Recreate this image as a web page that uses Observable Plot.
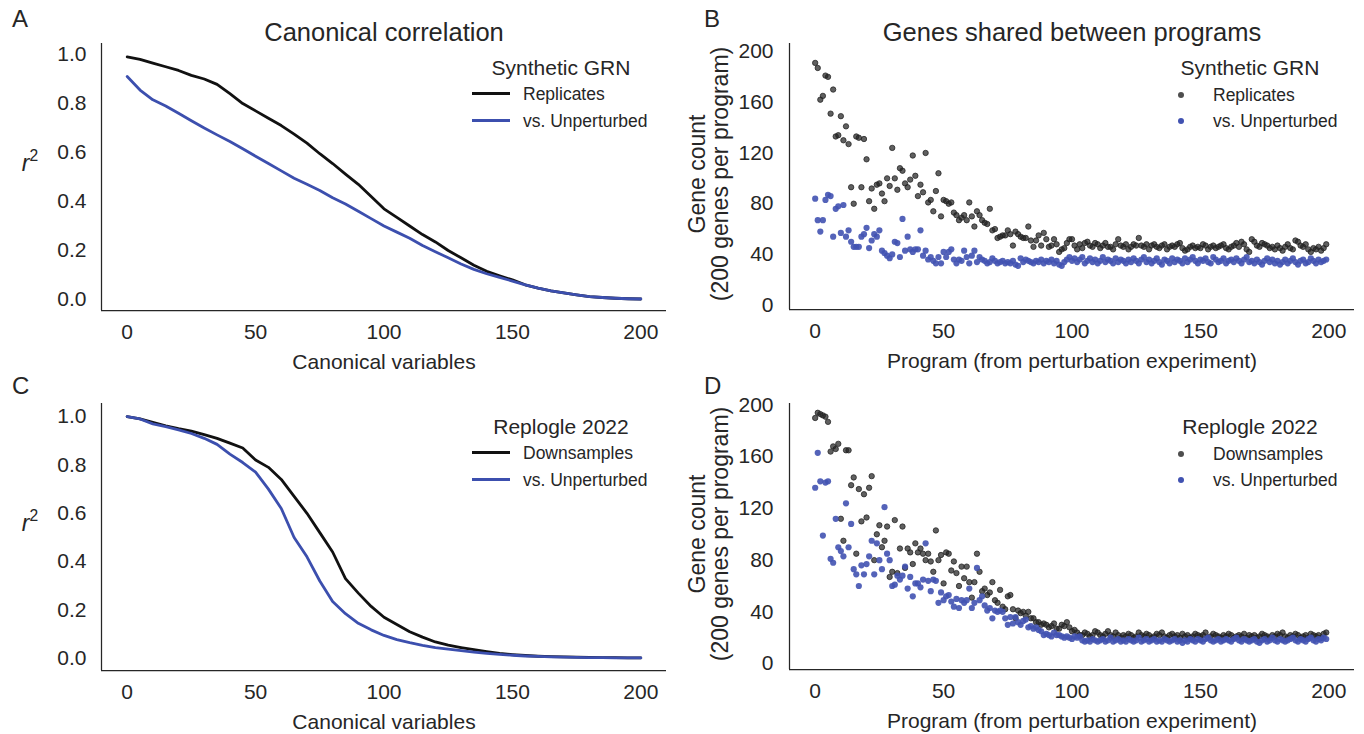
<!DOCTYPE html>
<html>
<head>
<meta charset="utf-8">
<script src="https://cdn.jsdelivr.net/npm/d3@7"></script>
<script src="https://cdn.jsdelivr.net/npm/@observablehq/plot@0.6"></script>
<style>
  body { margin: 0; background: #fff; }
  #fig { position: relative; width: 1364px; height: 734px; overflow: hidden;
         font-family: "Liberation Sans", Arial, sans-serif; color: #262626; }
  #fig svg { position: absolute; overflow: visible; }
  .t { position: absolute; white-space: nowrap; line-height: 1.15; }
  .mid { transform: translate(-50%, -50%); }
  .vmid { transform: translateY(-50%); }
  .rot { transform: translate(-50%, -50%) rotate(-90deg); }
  .swline { position: absolute; width: 38px; height: 3px; }
  .swdot { position: absolute; width: 6px; height: 6px; border-radius: 50%; }
</style>
</head>
<body>
<div id="fig"></div>
<script>
// Canonical variable index at which each r² value is listed
const canonicalIdx = [0,5,10,15,20,25,30,35,40,45,50,55,60,65,70,75,80,85,90,95,100,
  105,110,115,120,125,130,135,140,145,150,155,160,165,170,175,180,185,190,195,200];

// Synthetic GRN: canonical correlation r²
const grnReplicates = [0.99,0.98,0.965,0.95,0.935,0.915,0.90,0.878,0.84,0.80,0.77,
  0.74,0.71,0.675,0.638,0.595,0.555,0.512,0.47,0.42,0.37,
  0.335,0.30,0.265,0.235,0.20,0.17,0.14,0.115,0.097,0.08,
  0.06,0.046,0.035,0.027,0.019,0.012,0.008,0.005,0.003,0.002];
const grnUnperturbed = [0.91,0.855,0.815,0.79,0.76,0.73,0.70,0.672,0.645,0.615,0.585,
  0.555,0.525,0.495,0.47,0.445,0.415,0.39,0.36,0.33,0.30,
  0.275,0.25,0.22,0.195,0.17,0.145,0.123,0.105,0.09,0.075,
  0.06,0.046,0.035,0.027,0.019,0.012,0.008,0.005,0.003,0.002];

// Replogle 2022: canonical correlation r²
const repDownsamples = [1.0,0.99,0.976,0.962,0.95,0.94,0.925,0.91,0.89,0.87,0.82,
  0.79,0.74,0.67,0.60,0.52,0.44,0.33,0.27,0.215,0.17,
  0.14,0.11,0.088,0.068,0.055,0.045,0.036,0.028,0.021,0.016,
  0.012,0.009,0.007,0.006,0.005,0.004,0.003,0.003,0.002,0.002];
const repUnperturbed = [1.0,0.99,0.97,0.958,0.945,0.93,0.91,0.885,0.845,0.81,0.77,
  0.70,0.62,0.50,0.42,0.32,0.235,0.185,0.145,0.118,0.095,
  0.078,0.065,0.054,0.045,0.038,0.032,0.026,0.021,0.017,0.013,
  0.01,0.008,0.006,0.005,0.004,0.003,0.003,0.002,0.002,0.002];

// Genes shared between programs, one value per program (0–199)
const sharedGrnReplicates = [
  191,187,162,165,181,180,151,170,133,134, 149,130,141,127,93,80,133,132,93,131,
  115,82,92,76,95,96,88,82,100,94, 124,100,91,108,106,96,93,99,118,102,
  86,95,89,120,81,83,74,90,104,70, 83,82,80,81,73,71,67,69,71,67,
  81,70,62,74,71,67,65,64,76,59, 60,53,54,55,55,59,56,47,58,56,
  54,53,53,62,51,46,51,55,47,57, 52,46,47,52,48,42,44,45,49,52,
  52,47,44,48,45,49,50,47,46,49, 48,45,47,49,46,46,44,48,52,47,
  46,48,44,46,48,47,53,47,46,48, 44,47,48,46,45,47,48,44,46,47,
  46,48,49,45,43,44,46,47,45,46, 45,48,47,44,46,47,45,46,47,48,
  45,44,46,47,49,46,50,48,44,42, 52,50,47,46,49,48,47,45,46,44,
  47,45,43,46,48,45,44,51,50,47, 46,48,44,42,45,44,46,43,45,48];
const sharedGrnUnperturbed = [
  84,67,58,67,83,87,86,54,76,78, 57,79,54,59,50,46,46,46,54,56,
  61,45,51,56,54,59,43,41,39,37, 40,50,49,38,68,43,54,44,42,44,
  44,59,39,43,36,38,35,33,38,33, 42,38,42,44,36,33,36,35,43,38,
  33,39,43,34,38,36,35,33,34,37, 35,33,34,35,33,34,33,35,32,31,
  37,34,36,35,34,33,35,34,36,33, 35,34,36,33,35,32,31,34,36,38,
  35,37,34,36,38,33,35,37,34,36, 33,35,38,34,36,35,33,37,34,36,
  35,33,36,34,37,35,33,36,38,34, 36,33,35,37,34,32,36,35,33,37,
  34,36,35,33,37,34,36,38,35,33, 36,35,37,34,33,38,36,34,35,37,
  33,35,36,34,37,35,33,36,38,34, 35,33,36,34,32,35,37,34,36,33,
  35,32,34,36,33,35,37,34,32,35, 36,33,34,37,35,33,36,34,35,36];
const sharedRepDownsamples = [
  190,194,193,192,191,187,164,168,166,170, 112,95,165,165,138,144,85,135,110,131,
  113,136,145,80,100,107,90,95,106,67, 71,111,70,89,106,74,89,86,77,93,
  86,89,85,80,85,79,71,103,80,84, 62,86,85,72,79,70,60,75,66,75,
  63,51,63,85,71,56,58,53,55,63, 49,47,57,44,42,52,53,42,35,41,
  39,40,37,40,35,35,32,32,30,31, 30,28,29,31,27,27,30,29,32,28,
  25,26,24,22,22,24,23,21,22,25, 24,22,21,23,25,22,21,24,22,20,
  22,21,23,22,20,21,24,22,21,23, 22,20,21,23,22,24,21,20,22,23,
  21,22,20,23,21,22,20,21,23,22, 21,22,24,20,21,23,22,21,20,22,
  21,23,22,20,21,22,21,23,20,22, 21,22,20,21,23,22,21,20,22,21,
  23,22,24,21,20,22,21,23,22,20, 21,22,20,23,22,21,22,20,23,24];
const sharedRepUnperturbed = [
  136,163,141,99,140,141,81,78,112,90, 87,83,124,90,108,73,69,60,76,69,
  77,83,95,69,93,80,73,121,85,80, 60,61,68,65,68,75,58,67,52,62,
  62,59,65,93,64,56,65,64,47,55, 49,52,53,48,44,50,43,49,47,49,
  58,43,47,74,49,52,45,41,43,35, 41,40,41,40,35,30,36,31,36,32,
  30,33,34,28,29,27,28,26,25,22, 23,22,21,24,22,22,21,20,21,20,
  19,21,20,21,18,17,18,17,19,18, 17,18,19,17,18,20,17,18,19,17,
  18,17,19,18,17,18,20,17,18,19, 17,18,19,17,18,17,19,18,17,18,
  19,17,18,16,18,17,19,18,17,19, 18,17,19,20,18,17,18,19,17,18,
  19,18,17,19,20,18,17,19,18,17, 18,19,17,16,18,19,17,18,20,18,
  17,19,18,17,18,19,20,18,17,19, 18,17,19,20,18,17,19,18,20,19];

const xTicks = [0, 50, 100, 150, 200];
const r2Ticks = [0, 0.2, 0.4, 0.6, 0.8, 1.0];
const countTicks = [0, 40, 80, 120, 160, 200];

const INK = "#262626";
const BLACK = "#111111";
const BLUE = "#3c4fae";
const DOT_BLUE = "#4152b1";
const FONT = '"Liberation Sans", Arial, sans-serif';

const fig = document.getElementById("fig");

function place(svg, left, top) {
  svg.style.left = left + "px";
  svg.style.top = top + "px";
  fig.appendChild(svg);
}

function html(cls, left, top, content, style = "") {
  const d = document.createElement("div");
  d.className = "t " + cls;
  d.style.cssText = `left:${left}px;top:${top}px;${style}`;
  d.innerHTML = content;
  fig.appendChild(d);
  return d;
}

// Correlation curve panel (A, C)
function curvePanel({h, mb, yDomain, title, seriesA, seriesB}) {
  const toRows = vals => canonicalIdx.map((x, i) => ({x, r2: vals[i]}));
  return Plot.plot({
    width: 680, height: h,
    marginLeft: 101, marginRight: 14, marginTop: 43, marginBottom: mb,
    style: {fontFamily: FONT, fontSize: "21px", color: INK, background: "transparent", overflow: "visible"},
    x: {domain: [-10, 210], ticks: xTicks, tickSize: 0, tickPadding: 14, label: null},
    y: {domain: yDomain, ticks: r2Ticks, tickFormat: d3.format(".1f"), tickSize: 0, tickPadding: 15, label: null},
    marks: [
      Plot.ruleX([-10], {stroke: INK, strokeWidth: 1.25}),
      Plot.ruleY([yDomain[0]], {stroke: INK, strokeWidth: 1.25}),
      Plot.line(toRows(seriesA), {x: "x", y: "r2", stroke: BLACK, strokeWidth: 2.8, strokeLinejoin: "round"}),
      Plot.line(toRows(seriesB), {x: "x", y: "r2", stroke: BLUE, strokeWidth: 2.8, strokeLinejoin: "round"}),
      title ? Plot.text([title], {frameAnchor: "top", dy: -21, fontSize: 25.5, fill: INK}) : null,
      Plot.text(["Canonical variables"], {frameAnchor: "bottom", dy: 58, fontSize: 21, fill: INK})
    ]
  });
}

// Shared-gene scatter panel (B, D)
function scatterPanel({h, mb, yDomain, title, seriesA, seriesB}) {
  const toRows = vals => vals.map((v, i) => ({program: i, count: v}));
  return Plot.plot({
    width: 684, height: h,
    marginLeft: 109, marginRight: 10, marginTop: 43, marginBottom: mb,
    style: {fontFamily: FONT, fontSize: "21px", color: INK, background: "transparent", overflow: "visible"},
    x: {domain: [-10, 210], ticks: xTicks, tickSize: 0, tickPadding: 14, label: null},
    y: {domain: yDomain, ticks: countTicks, tickSize: 0, tickPadding: 16, label: null},
    marks: [
      Plot.ruleX([-10], {stroke: INK, strokeWidth: 1.25}),
      Plot.ruleY([yDomain[0]], {stroke: INK, strokeWidth: 1.25}),
      Plot.dot(toRows(seriesA), {x: "program", y: "count", r: 2.7, fill: "#222", fillOpacity: 0.72,
        stroke: "#222", strokeOpacity: 0.75, strokeWidth: 1}),
      Plot.dot(toRows(seriesB), {x: "program", y: "count", r: 3.1, fill: DOT_BLUE, fillOpacity: 0.9, stroke: "none"}),
      title ? Plot.text([title], {frameAnchor: "top", dy: -21, fontSize: 25.5, fill: INK}) : null,
      Plot.text(["Program (from perturbation experiment)"], {frameAnchor: "bottom", dy: 58, fontSize: 21, fill: INK})
    ]
  });
}

place(curvePanel({h: 370, mb: 60, yDomain: [-0.045, 1.045], title: "Canonical correlation",
  seriesA: grnReplicates, seriesB: grnUnperturbed}), 0, 0);
place(scatterPanel({h: 370, mb: 61, yDomain: [-3.4, 206.3], title: "Genes shared between programs",
  seriesA: sharedGrnReplicates, seriesB: sharedGrnUnperturbed}), 680, 0);
place(curvePanel({h: 374, mb: 64, yDomain: [-0.05, 1.054], title: null,
  seriesA: repDownsamples, seriesB: repUnperturbed}), 0, 360);
place(scatterPanel({h: 374, mb: 65, yDomain: [-4.6, 201.2], title: null,
  seriesA: sharedRepDownsamples, seriesB: sharedRepUnperturbed}), 680, 360);

// Panel letters
html("vmid", 12, 19, "A", "font-size:24px");
html("vmid", 704, 19, "B", "font-size:24px");
html("vmid", 12, 386, "C", "font-size:24px");
html("vmid", 704, 386, "D", "font-size:24px");

// r² axis labels
const r2Label = '<i>r</i><span style="font-size:0.68em;vertical-align:0.62em">2</span>';
html("mid", 30, 162, r2Label, "font-size:23px");
html("mid", 30, 522, r2Label, "font-size:23px");

// Gene count axis labels
for (const cy of [174, 534]) {
  html("rot", 697, cy, "Gene count", "font-size:23px");
  html("rot", 720, cy, "(200 genes per program)", "font-size:23px");
}

// Legends
function lineLegend(top, title, a, b) {
  html("mid", 561, top, title, "font-size:21px");
  for (const [dy, color, label] of [[25.5, BLACK, a], [52.5, BLUE, b]]) {
    const s = document.createElement("div");
    s.className = "swline";
    s.style.cssText = `left:472px;top:${top + dy - 1.5}px;background:${color}`;
    fig.appendChild(s);
    html("vmid", 523, top + dy, label, "font-size:17.5px");
  }
}
function dotLegend(top, title, a, b) {
  html("mid", 1250, top, title, "font-size:21px");
  for (const [dy, color, label] of [[27, "rgba(34,34,34,0.8)", a], [52.5, DOT_BLUE, b]]) {
    const s = document.createElement("div");
    s.className = "swdot";
    s.style.cssText = `left:${1181 - 3}px;top:${top + dy - 3}px;background:${color}`;
    fig.appendChild(s);
    html("vmid", 1213, top + dy, label, "font-size:17.5px");
  }
}
lineLegend(68, "Synthetic GRN", "Replicates", "vs. Unperturbed");
dotLegend(68, "Synthetic GRN", "Replicates", "vs. Unperturbed");
lineLegend(427, "Replogle 2022", "Downsamples", "vs. Unperturbed");
dotLegend(427, "Replogle 2022", "Downsamples", "vs. Unperturbed");
</script>
</body>
</html>
